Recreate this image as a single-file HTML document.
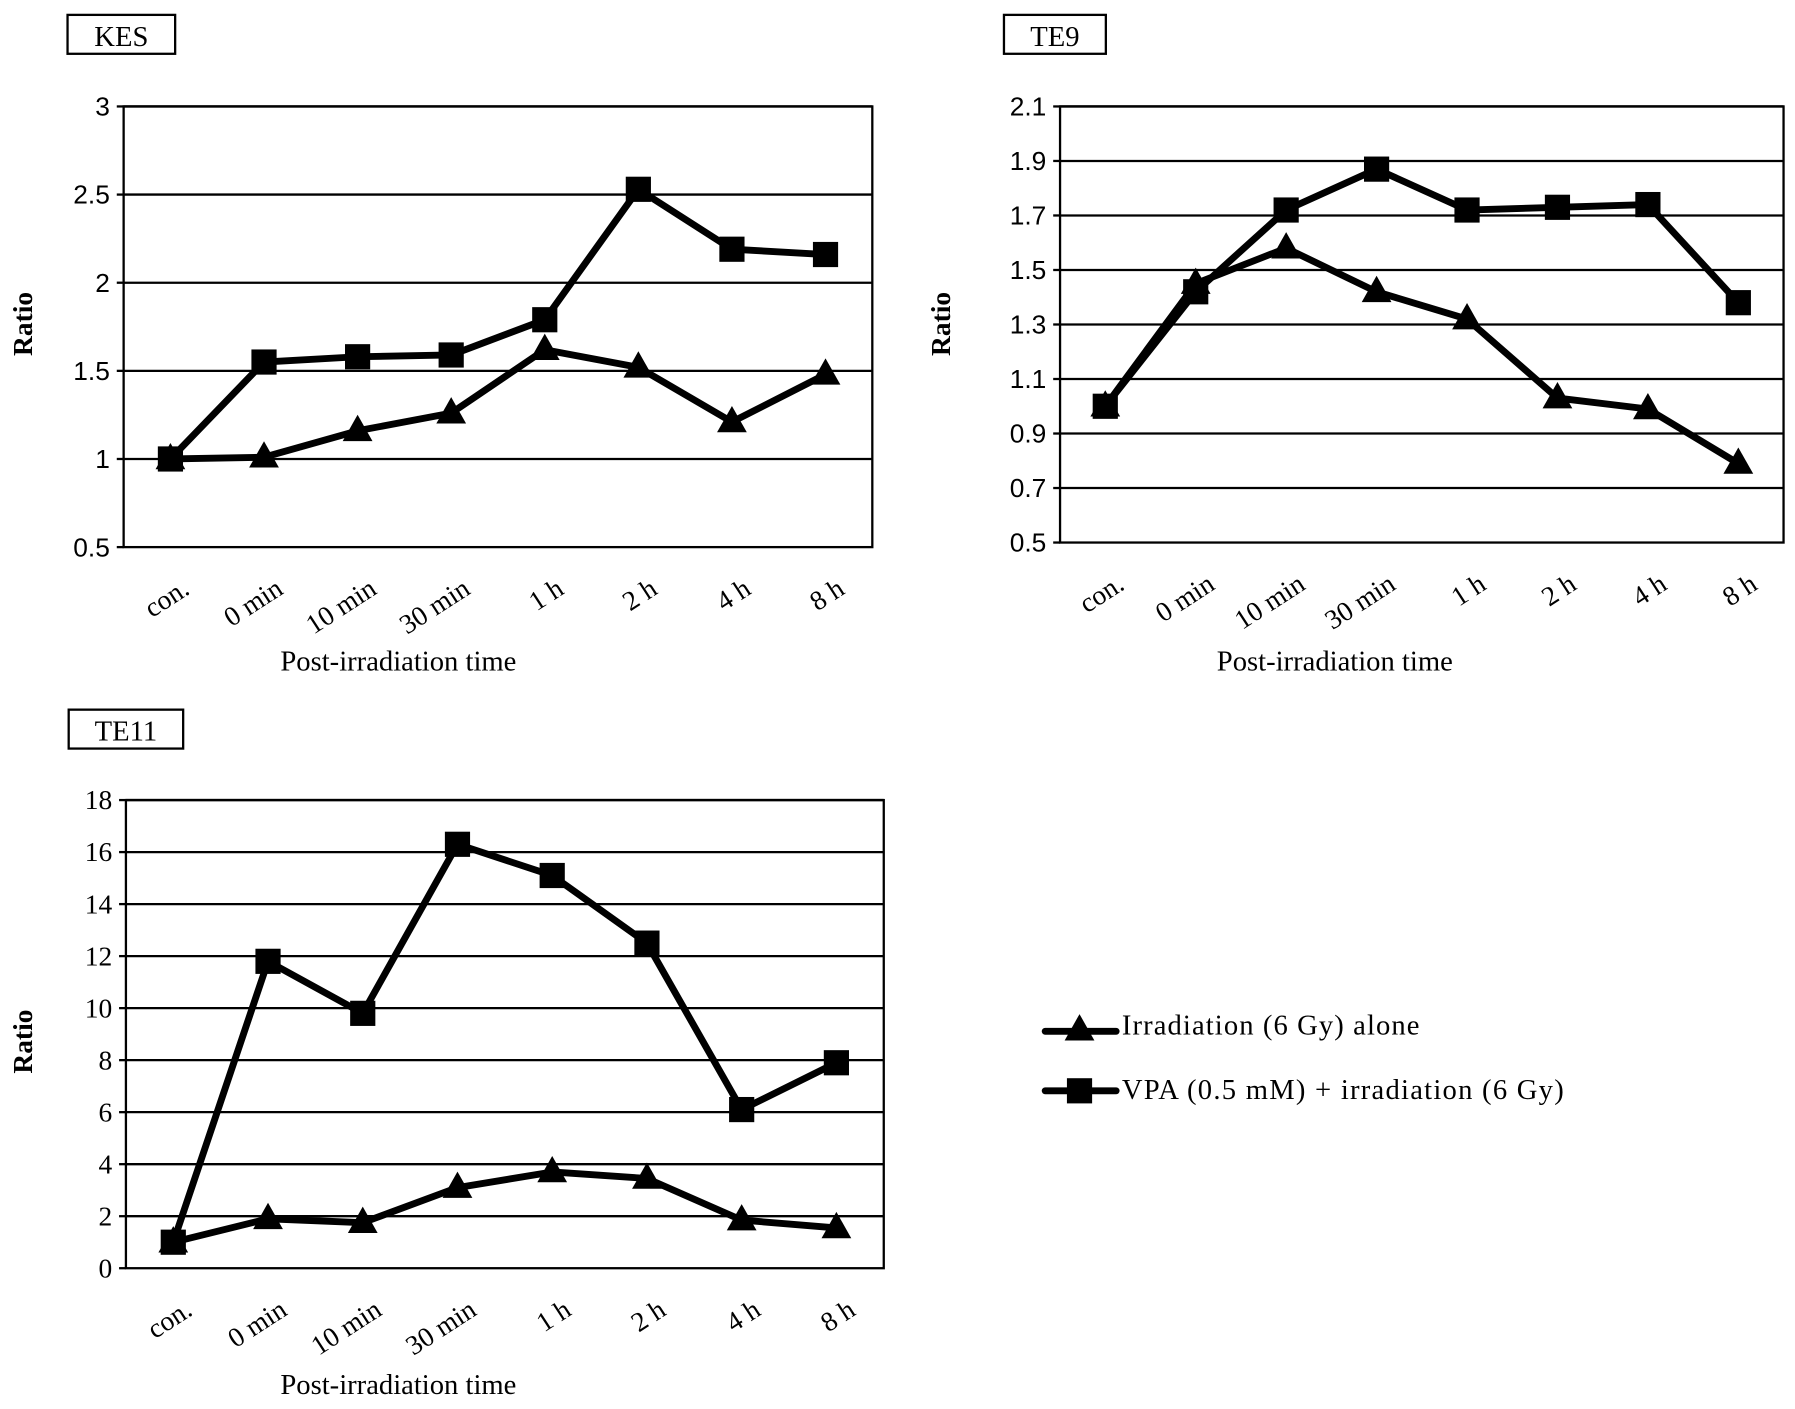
<!DOCTYPE html>
<html><head><meta charset="utf-8"><style>
html,body{margin:0;padding:0;background:#fff;}
svg{display:block;}
</style></head><body>
<svg id="fig" width="1795" height="1409" viewBox="0 0 1568 1231" preserveAspectRatio="none" xmlns="http://www.w3.org/2000/svg">
<rect x="0" y="0" width="1568" height="1231" fill="#fff"/>
<g id="legend">
  <g>
    <line x1="913" y1="901" x2="975" y2="901" stroke="#000" stroke-width="6" stroke-linecap="round"/>
    <polygon points="943,886 956,909 930,909" fill="#000"/>
    <text x="980" y="904" font-family="Liberation Serif, serif" font-size="25" textLength="260">Irradiation (6 Gy) alone</text>
  </g>
  <g>
    <line x1="913" y1="953" x2="975" y2="953" stroke="#000" stroke-width="6" stroke-linecap="round"/>
    <rect x="932" y="942" width="22" height="22" fill="#000"/>
    <text x="980" y="960" font-family="Liberation Serif, serif" font-size="25" textLength="386">VPA (0.5 mM) + irradiation (6 Gy)</text>
  </g>
</g>
</svg>
<script>
const categories = ["con.","0 min","10 min","30 min","1 h","2 h","4 h","8 h"];
const kesTicks = [0.5,1,1.5,2,2.5,3];
const kesTickLabels = ["0.5","1","1.5","2","2.5","3"];
const kesSquare = [1.0,1.55,1.58,1.59,1.79,2.53,2.19,2.16];
const kesTriangle = [1.0,1.01,1.16,1.26,1.62,1.52,1.21,1.48];
const te9Ticks = [0.5,0.7,0.9,1.1,1.3,1.5,1.7,1.9,2.1];
const te9TickLabels = ["0.5","0.7","0.9","1.1","1.3","1.5","1.7","1.9","2.1"];
const te9Square = [1.0,1.42,1.72,1.87,1.72,1.73,1.74,1.38];
const te9Triangle = [1.0,1.45,1.58,1.42,1.32,1.03,0.99,0.79];
const te11Ticks = [0,2,4,6,8,10,12,14,16,18];
const te11TickLabels = ["0","2","4","6","8","10","12","14","16","18"];
const te11Square = [1.0,11.8,9.8,16.3,15.1,12.5,6.1,7.9];
const te11Triangle = [1.0,1.9,1.75,3.1,3.7,3.45,1.85,1.55];

const NS="http://www.w3.org/2000/svg";
const svg=document.getElementById('fig');
function mk(tag,attrs,parent){const e=document.createElementNS(NS,tag);for(const k in attrs)e.setAttribute(k,attrs[k]);parent.appendChild(e);return e;}

function chart(o){
  const g=mk('g',{},svg);
  
  
  const ymin=o.ticks[0], ymax=o.ticks[o.ticks.length-1];
  const y=v=>o.bottom-(v-ymin)/(ymax-ymin)*(o.bottom-o.top);
  const step=(o.right-o.left)/categories.length;
  const x=i=>o.left+step*(i+0.5);
  const tb=mk('g',{},g);
  
  
  mk('rect',{x:o.tbx,y:o.tby,width:o.tbw,height:34,fill:'#fff',stroke:'#000','stroke-width':2},tb);
  const tt=mk('text',{x:o.tbx+o.tbw/2,y:o.tby+27,'text-anchor':'middle','font-family':'Liberation Serif, serif','font-size':25},tb);
  tt.textContent=o.name;
  o.ticks.forEach((t,i)=>{
    if(i>0){const gl=mk('line',{x1:o.left,x2:o.right,y1:y(t),y2:y(t),stroke:'#000','stroke-width':2},g);
      
      }
    mk('line',{x1:o.left-6,x2:o.left,y1:y(t),y2:y(t),stroke:'#000','stroke-width':2},g);
    const tl=mk('text',{x:o.left-12,y:y(t)+8,'text-anchor':'end','font-family':o.tickFont,'font-size':o.tickSize},g);
    
    
    tl.textContent=o.tickLabels[i];
  });
  const fr=mk('rect',{x:o.left,y:o.top,width:o.right-o.left,height:o.bottom-o.top,fill:'none',stroke:'#000','stroke-width':2},g);
  
  
  categories.forEach((c,i)=>{
    const lx=x(i)+18, ly=o.bottom+40;
    const t=mk('text',{x:lx,y:ly,'text-anchor':'end','font-family':'Liberation Serif, serif','font-size':24,transform:`rotate(-33 ${lx} ${ly})`},g);
    
    
    t.textContent=c;
  });
  const xt=mk('text',{x:o.xtx,y:o.xty,'text-anchor':'middle','font-family':'Liberation Serif, serif','font-size':25},g);
  
  
  xt.textContent='Post-irradiation time';
  const yt=mk('text',{x:o.ytx,y:o.yty,'text-anchor':'middle','font-family':'Liberation Serif, serif','font-size':24,'font-weight':'bold',transform:`rotate(-90 ${o.ytx} ${o.yty})`},g);
  
  
  yt.textContent='Ratio';
  function series(vals,kind){
    const sg=mk('g',{},g);
    
    
    const pts=vals.map((v,i)=>x(i)+','+y(v)).join(' ');
    mk('polyline',{points:pts,fill:'none',stroke:'#000','stroke-width':6,'stroke-linejoin':'round'},sg);
    vals.forEach((v,i)=>{
      const cx=x(i),cy=y(v);
      let m;
      if(kind==='sq') m=mk('rect',{x:cx-11,y:cy-11,width:22,height:22,fill:'#000'},sg);
      else m=mk('polygon',{points:`${cx},${cy-14} ${cx+13},${cy+9} ${cx-13},${cy+9}`,fill:'#000'},sg);
      
      
    });
  }
  series(o.tri,'tri');
  series(o.sq,'sq');
}

chart({name:'KES',left:108,right:762,top:93,bottom:478,ticks:kesTicks,tickLabels:kesTickLabels,sq:kesSquare,tri:kesTriangle,
  tbx:59,tby:13,tbw:94,tickFont:'Liberation Sans, sans-serif',tickSize:23,xtx:348,xty:586,ytx:28,yty:283});
chart({name:'TE9',left:926,right:1558,top:93,bottom:474,ticks:te9Ticks,tickLabels:te9TickLabels,sq:te9Square,tri:te9Triangle,
  tbx:877,tby:13,tbw:89,tickFont:'Liberation Sans, sans-serif',tickSize:23,xtx:1166,xty:586,ytx:830,yty:283});
chart({name:'TE11',left:110,right:772,top:699,bottom:1108,ticks:te11Ticks,tickLabels:te11TickLabels,sq:te11Square,tri:te11Triangle,
  tbx:60,tby:620,tbw:100,tickFont:'Liberation Serif, serif',tickSize:24,xtx:348,xty:1218,ytx:28,yty:910});
</script>
</body></html>
